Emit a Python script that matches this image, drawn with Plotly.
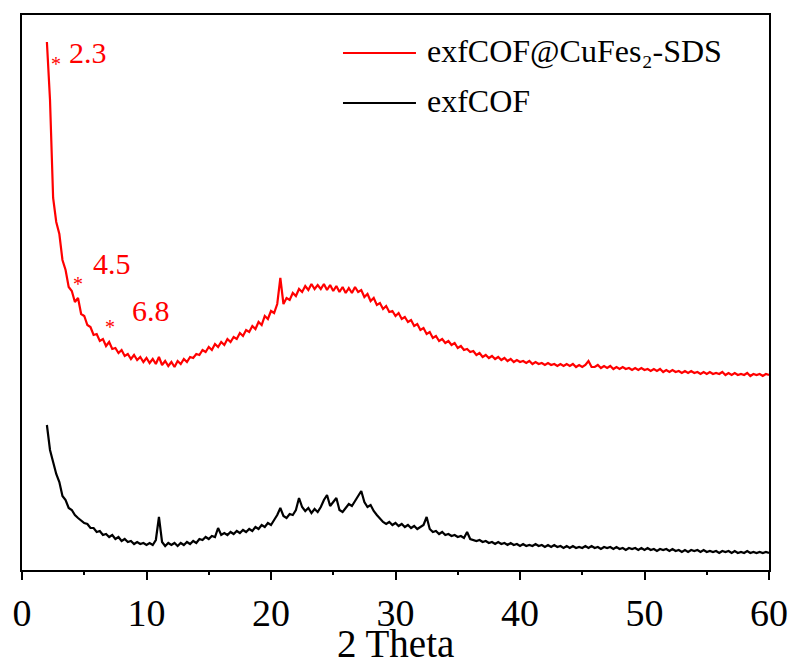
import numpy as np
import plotly.graph_objects as go

# 2-theta sampling (degrees), 0.25 step from 2 to 60
two_theta = np.arange(2.0, 60.0001, 0.25)

# Intensities (arbitrary units); 4 values per degree
red_intensity = [
    528, 470, 372, 348,  # 2
    336, 310, 300, 283,  # 3
    279, 268, 272, 256,  # 4
    254, 245, 243, 235,  # 5
    236, 229, 231, 224,  # 6
    228, 221, 222, 217,  # 7
    220, 214, 216, 211,  # 8
    215, 210, 213, 208,  # 9
    212, 207, 211, 206,  # 10
    213, 205, 209, 204,  # 11
    208, 203, 209, 206,  # 12
    211, 208, 213, 212,  # 13
    216, 215, 220, 218,  # 14
    223, 220, 226, 223,  # 15
    228, 225, 231, 228,  # 16
    233, 231, 237, 234,  # 17
    240, 238, 244, 241,  # 18
    248, 245, 254, 251,  # 19
    259, 257, 266, 292,  # 20
    266, 272, 270, 277,  # 21
    274, 281, 278, 284,  # 22
    280, 286, 281, 285,  # 23
    281, 286, 280, 285,  # 24
    279, 284, 278, 283,  # 25
    277, 282, 277, 283,  # 26
    278, 280, 273, 276,  # 27
    269, 272, 265, 267,  # 28
    261, 264, 258, 259,  # 29
    254, 257, 251, 253,  # 30
    248, 250, 244, 246,  # 31
    240, 242, 236, 238,  # 32
    232, 234, 229, 231,  # 33
    227, 229, 225, 227,  # 34
    222, 224, 220, 221,  # 35
    218, 219, 215, 217,  # 36
    213, 215, 212, 214,  # 37
    211, 213, 210, 212,  # 38
    209, 211, 208, 210,  # 39
    208, 209, 207, 209,  # 40
    206, 208, 206, 207,  # 41
    205, 207, 205, 206,  # 42
    204, 206, 204, 206,  # 43
    204, 206, 203, 205,  # 44
    203, 205, 209, 203,  # 45
    203, 205, 202, 204,  # 46
    202, 204, 201, 203,  # 47
    201, 203, 201, 202,  # 48
    200, 202, 200, 202,  # 49
    200, 201, 199, 201,  # 50
    199, 201, 198, 200,  # 51
    198, 200, 198, 199,  # 52
    197, 199, 197, 199,  # 53
    197, 198, 196, 198,  # 54
    196, 198, 196, 197,  # 55
    196, 198, 195, 197,  # 56
    195, 197, 195, 196,  # 57
    195, 197, 194, 196,  # 58
    195, 196, 194, 196,  # 59
    195,                 # 60
]

black_intensity = [
    145, 120, 108, 96,   # 2
    88, 74, 70, 62,      # 3
    60, 55, 52, 49,      # 4
    47, 46, 42, 42,      # 5
    38, 39, 35, 36,      # 6
    33, 35, 31, 33,      # 7
    29, 31, 28, 29,      # 8
    26, 28, 26, 27,      # 9
    25, 27, 25, 30,      # 10
    53, 28, 24, 27,      # 11
    25, 27, 24, 27,      # 12
    25, 28, 26, 29,      # 13
    27, 31, 30, 33,      # 14
    31, 34, 33, 42,      # 15
    35, 37, 35, 38,      # 16
    36, 39, 37, 40,      # 17
    38, 41, 39, 43,      # 18
    41, 45, 43, 47,      # 19
    45, 50, 55, 62,      # 20
    54, 52, 56, 55,      # 21
    60, 72, 63, 59,      # 22
    62, 57, 61, 58,      # 23
    63, 70, 75, 64,      # 24
    68, 72, 60, 58,      # 25
    62, 66, 64, 69,      # 26
    73, 79, 68, 63,      # 27
    65, 59, 55, 51,      # 28
    48, 46, 48, 45,      # 29
    47, 44, 46, 43,      # 30
    45, 42, 44, 41,      # 31
    43, 45, 53, 41,      # 32
    38, 39, 36, 38,      # 33
    35, 36, 34, 35,      # 34
    33, 34, 32, 38,      # 35
    31, 30, 29, 30,      # 36
    28, 29, 27, 28,      # 37
    26, 28, 26, 27,      # 38
    25, 27, 25, 26,      # 39
    24, 26, 24, 25,      # 40
    24, 26, 24, 25,      # 41
    23, 25, 23, 25,      # 42
    23, 24, 22, 24,      # 43
    22, 24, 22, 23,      # 44
    22, 24, 22, 24,      # 45
    22, 23, 21, 23,      # 46
    22, 23, 21, 23,      # 47
    21, 22, 20, 22,      # 48
    21, 22, 20, 22,      # 49
    20, 22, 20, 21,      # 50
    19, 21, 20, 21,      # 51
    19, 21, 19, 20,      # 52
    18, 20, 18, 20,      # 53
    19, 20, 18, 20,      # 54
    18, 19, 18, 19,      # 55
    17, 19, 18, 19,      # 56
    17, 19, 17, 18,      # 57
    17, 19, 17, 18,      # 58
    17, 18, 17, 18,      # 59
    17,                  # 60
]

series_names = ["exfCOF@CuFes\u2082-SDS", "exfCOF"]
series_colors = ["#ff0000", "#000000"]

peak_labels = ["2.3", "4.5", "6.8"]
star_x = [2.77, 4.53, 7.1]
star_y = [506, 286, 243]
label_x = [5.34, 7.26, 10.39]
label_y = [518, 307, 260]

major_ticks = [0, 10, 20, 30, 40, 50, 60]
minor_ticks = [5, 15, 25, 35, 45, 55]
x_title = "2 Theta"

FONT = "Times New Roman"

fig = go.Figure()
fig.add_trace(go.Scatter(x=two_theta, y=red_intensity, mode="lines",
                         line=dict(color=series_colors[0], width=2.2),
                         name="red", showlegend=False))
fig.add_trace(go.Scatter(x=two_theta, y=black_intensity, mode="lines",
                         line=dict(color=series_colors[1], width=2.2),
                         name="black", showlegend=False))

for x, y in zip(star_x, star_y):
    fig.add_annotation(x=x, y=y, text="*", showarrow=False, xanchor="center",
                       yanchor="middle", font=dict(family=FONT, size=20, color="#ff0000"))

for t, x, y in zip(peak_labels, label_x, label_y):
    fig.add_annotation(x=x, y=y, text=t, showarrow=False, xanchor="center",
                       yanchor="middle", font=dict(family=FONT, size=30, color="#ff0000"))

# manual legend
leg_y = [0.9315, 0.8414]
for name, col, y in zip(series_names, series_colors, leg_y):
    fig.add_shape(type="line", xref="paper", yref="paper", x0=0.4297, x1=0.5274,
                  y0=y, y1=y, line=dict(color=col, width=2))
    fig.add_annotation(xref="paper", yref="paper", x=0.5395, y=y + 0.004, text=name,
                       showarrow=False, xanchor="left", yanchor="middle",
                       font=dict(family=FONT, size=32, color="#000000"))

# x-axis title placed below the tick labels
fig.add_annotation(xref="paper", yref="paper", x=0.5, y=-0.1333, text=x_title,
                   showarrow=False, xanchor="center", yanchor="middle",
                   font=dict(family=FONT, size=39, color="#000000"))

fig.update_layout(
    width=794, height=664,
    margin=dict(l=22, r=25, t=15, b=94),
    paper_bgcolor="white", plot_bgcolor="white",
    showlegend=False,
    xaxis=dict(range=[0, 60], tickvals=major_ticks, ticks="outside", ticklen=8, tickwidth=2,
               tickcolor="black", showline=True, linewidth=2, linecolor="black",
               mirror=True, showgrid=False, zeroline=False, automargin=False,
               tickfont=dict(family=FONT, size=38, color="black")),
    xaxis2=dict(overlaying="x", anchor="y", side="bottom", range=[0, 60],
                tickvals=minor_ticks, ticks="outside", ticklen=4, tickwidth=2,
                tickcolor="black", showticklabels=False, showline=False,
                showgrid=False, zeroline=False, automargin=False),
    yaxis=dict(range=[0, 555], showticklabels=False, ticks="", showline=True, linewidth=2,
               linecolor="black", mirror=True, showgrid=False, zeroline=False,
               automargin=False),
)
# invisible helper trace so the minor-tick axis is drawn
fig.add_trace(go.Scatter(x=[], y=[], xaxis="x2", yaxis="y", showlegend=False))

fig.write_html("out.html")
